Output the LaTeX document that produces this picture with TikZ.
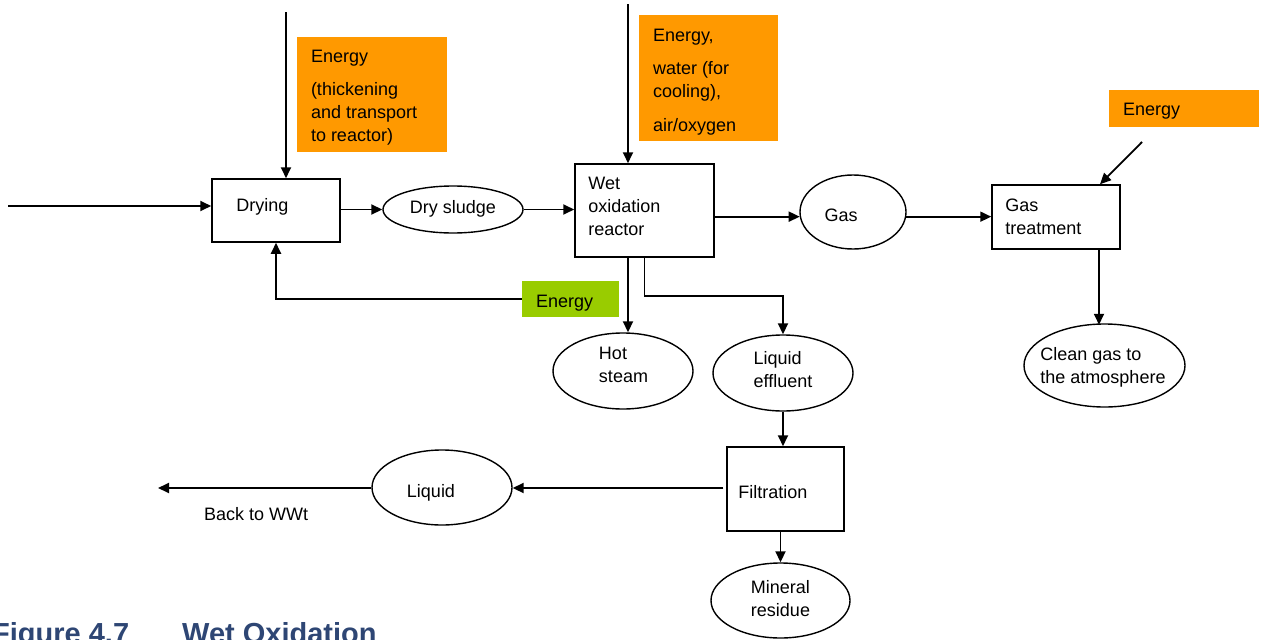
\documentclass[tikz,border=0pt]{standalone}
\usepackage{fontspec}
\setmainfont{Liberation Sans}
\usetikzlibrary{arrows.meta,calc,shapes.geometric}
\definecolor{energyorange}{HTML}{FF9900}
\definecolor{energygreen}{HTML}{99CC00}
\definecolor{captionblue}{HTML}{2E4674}
\begin{document}
\begin{tikzpicture}[x=1pt,y=-1pt,
  font=\fontsize{18}{23}\selectfont,
  flow/.style={line width=1.8pt,-{Triangle[length=11pt,width=10pt]}},
  proc/.style={draw,line width=1.5pt,rectangle,inner sep=0pt},
  fluid/.style={draw,line width=1.4pt,ellipse,inner sep=0pt},
  supply/.style={fill=energyorange,rectangle,inner sep=0pt},
  recovered/.style={fill=energygreen,rectangle,inner sep=0pt},
  tag/.style={align=left,inner sep=0pt},
  inset/.style={tag,anchor=west,xshift=#1}]
\useasboundingbox (0,0) rectangle (1262,640);

% process units
\node[proc,minimum width=128pt,minimum height=63pt,
  label={[inset=25pt,yshift=4pt]west:Drying}] (dry) at (276,210.5) {};
\node[proc,minimum width=139pt,minimum height=93pt,
  label={[inset=14pt,yshift=4pt]west:Wet\\oxidation\\reactor}] (reac) at (644.5,210.5) {};
\node[proc,minimum width=128pt,minimum height=64pt,
  label={[inset=14pt]west:Gas\\treatment}] (treat) at (1056,217) {};
\node[proc,minimum width=117pt,minimum height=84pt,
  label={[inset=12pt,yshift=-3pt]west:Filtration}] (filt) at (785.5,489) {};

% energy inputs
\node[supply,minimum width=150pt,minimum height=115pt,
  label={[inset=14pt,yshift=-3pt]west:Energy\\[10pt](thickening\\and transport\\to reactor)}]
  (e1) at (372,94.5) {};
\node[supply,minimum width=139pt,minimum height=126pt,
  label={[inset=14pt,yshift=-4pt]west:Energy,\\[10pt]water (for\\cooling),\\[11pt]air/oxygen}]
  (e2) at (708.5,78) {};
\node[supply,minimum width=150pt,minimum height=37pt,
  label={[inset=14pt,yshift=-3pt]west:Energy}] (e3) at (1184,108.5) {};
\node[recovered,minimum width=97pt,minimum height=36pt,
  label={[inset=14pt,yshift=-4pt]west:Energy}] (eg) at (570.5,299) {};

% streams
\node[fluid,minimum width=140pt,minimum height=47pt,
  label={[tag,yshift=0.5pt]center:Dry sludge}] (sludge) at (453,209.5) {};
\node[fluid,minimum width=106pt,minimum height=74pt,
  label={[tag,xshift=-12pt,yshift=-3pt]center:Gas}] (gas) at (853,212) {};
\node[fluid,minimum width=140pt,minimum height=76pt,
  label={[tag,xshift=0.5pt,yshift=6pt]center:Hot\\steam}] (steam) at (623,371) {};
\node[fluid,minimum width=140pt,minimum height=76pt,
  label={[tag,yshift=3.5pt]center:Liquid\\effluent}] (effl) at (783,373) {};
\node[fluid,minimum width=161pt,minimum height=83pt,
  label={[tag,xshift=-1.5pt,yshift=-1.5pt]center:Clean gas to\\the atmosphere}] (clean) at (1104.5,365.5) {};
\node[fluid,minimum width=140pt,minimum height=75pt,
  label={[tag,xshift=-11pt,yshift=-5pt]center:Liquid}] (liquid) at (442,487.5) {};
\node[fluid,minimum width=139pt,minimum height=75pt,
  label={[tag,yshift=1.5pt]center:Mineral\\residue}] (mineral) at (780.5,600.5) {};

\node[tag,anchor=west] (wwt) at (204,514) {Back to WWt};

% free ends of the connectors
\coordinate (feed) at (8,206);
\coordinate (e1top) at (286,12);
\coordinate (e2top) at (628,4);
\coordinate (e3tail) at (1142,142);
\coordinate (back) at (158,488);

% connectors
\draw[flow] (feed) -- (feed -| dry.west);
\draw[flow] (e1top) -- (e1top |- dry.north);
\draw[flow] (dry.east |- sludge.west) -- (sludge.west);
\draw[flow] (sludge.east) -- (sludge.east -| reac.west);
\draw[flow] (e2top) -- (e2top |- reac.north);
\draw[flow] (reac.east |- gas.185) -- (gas.185);
\draw[flow] (gas.355) -- (gas.355 -| treat.west);
\draw[flow] (e3tail) -- ($(treat.north)+(44,0)$);
\draw[flow] ($(treat.south)+(43,0)$) -- ($(treat.south)+(43,75)$);
\draw[flow] (eg.west) -| (dry.south);
\draw[flow] (e2top |- reac.south) -- (e2top |- steam.north);
\draw[flow] (reac.south) -- ++(0,38) -| (effl.north);
\draw[flow] (effl.south) -- (effl.south |- filt.north);
\draw[flow,shorten <=3pt] (filt.west |- back) -- (liquid.east |- back);
\draw[flow] (liquid.west |- back) -- (back);
\draw[flow] (filt.south -| mineral.north) -- (mineral.north);

% caption
\node[anchor=base west,inner sep=0pt,text=captionblue,
  font=\fontsize{29}{31}\selectfont\bfseries] (figno) at (-8,643.5) {Figure 4.7};
\node[anchor=base west,inner sep=0pt,text=captionblue,
  font=\fontsize{29}{31}\selectfont\bfseries] (figtitle) at (182,643.5) {Wet Oxidation};
\end{tikzpicture}
\end{document}
